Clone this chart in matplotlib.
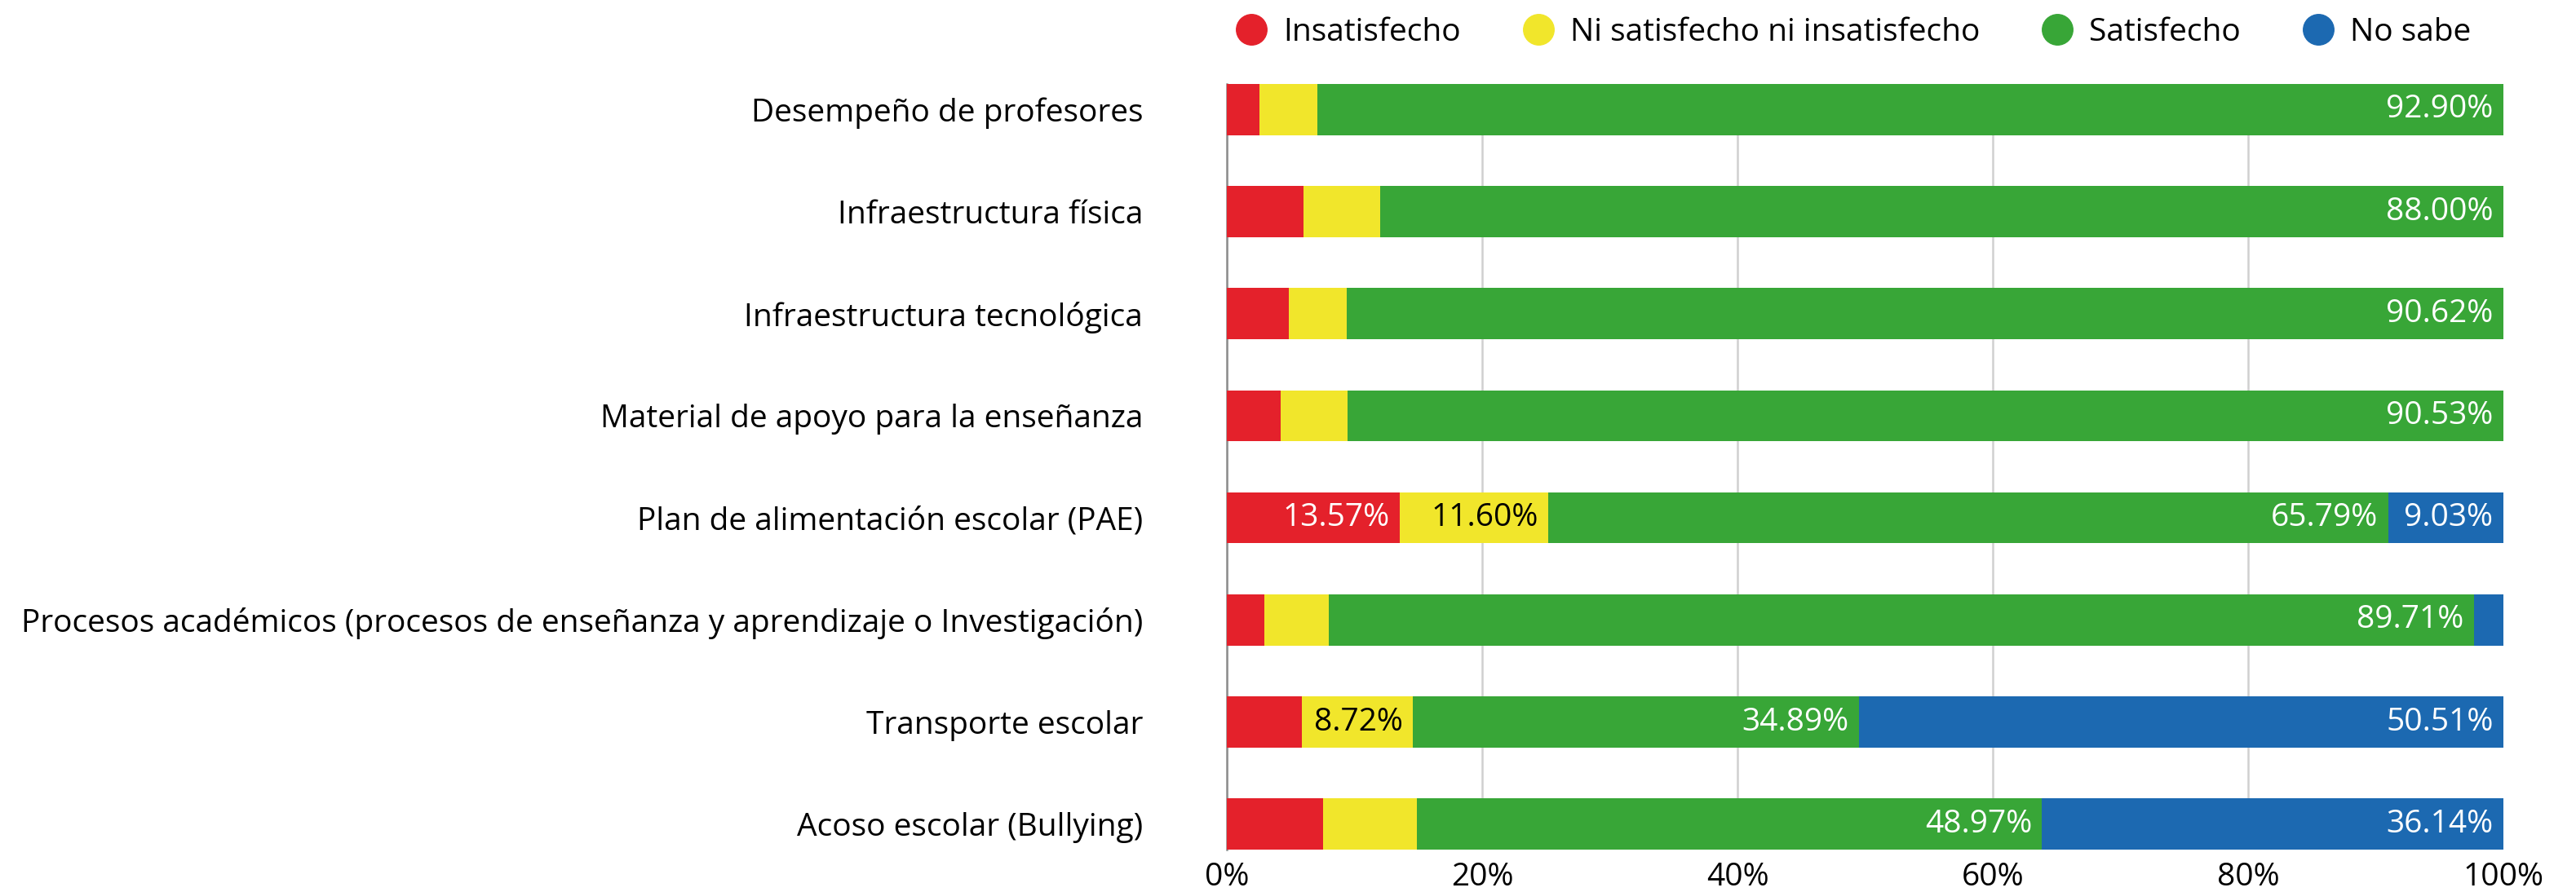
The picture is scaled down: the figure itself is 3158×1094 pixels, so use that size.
import matplotlib
matplotlib.use("Agg")
import matplotlib.pyplot as plt
from matplotlib.lines import Line2D

plt.rcParams["font.family"] = ["Open Sans", "DejaVu Sans"]

CATS = ["Desempeño de profesores",
        "Infraestructura física",
        "Infraestructura tecnológica",
        "Material de apoyo para la enseñanza",
        "Plan de alimentación escolar (PAE)",
        "Procesos académicos (procesos de enseñanza y aprendizaje o Investigación)",
        "Transporte escolar",
        "Acoso escolar (Bullying)"]
INSAT = [2.56, 6.00, 4.86, 4.22, 13.57, 2.94, 5.88, 7.54]
NI = [4.53, 6.00, 4.52, 5.25, 11.60, 5.05, 8.72, 7.35]
SAT = [92.90, 88.00, 90.62, 90.53, 65.79, 89.71, 34.89, 48.97]
NOSABE = [0.0, 0.0, 0.0, 0.0, 9.03, 2.30, 50.51, 36.14]
SERIES = ["Insatisfecho", "Ni satisfecho ni insatisfecho", "Satisfecho", "No sabe"]
COLORS = ["#e4212b", "#f1e62b", "#38a637", "#1c69b1"]
TXT = ["white", "black", "white", "white"]
XTICKS = [0, 20, 40, 60, 80, 100]
FS = 28

fig = plt.figure(figsize=(31.58, 10.94), dpi=100)
ax = fig.add_axes([1504 / 3158, 52 / 1094, 1565 / 3158, 939 / 1094])

y = list(range(len(CATS)))
left = [0.0] * len(CATS)
for vals, col, tc, name in zip([INSAT, NI, SAT, NOSABE], COLORS, TXT, SERIES):
    ax.barh(y, vals, left=left, height=0.5, color=col, zorder=3, label=name)
    for i, v in enumerate(vals):
        if v > 8:   # only the wider segments carry a label
            ax.text(left[i] + v - 0.8, i, f"{v:.2f}%", ha="right", va="center",
                    color=tc, fontsize=FS, zorder=4)
    left = [l + v for l, v in zip(left, vals)]

ax.set_ylim(len(CATS) - 0.75, -0.25)
ax.set_xlim(0, 100)
ax.set_yticks(y)
ax.set_yticklabels(CATS, fontsize=FS)
ax.set_xticks(XTICKS)
ax.set_xticklabels([f"{t}%" for t in XTICKS], fontsize=FS)
ax.tick_params(axis="both", length=0)
ax.tick_params(axis="y", pad=74)
ax.tick_params(axis="x", pad=11)
for s in ["top", "right", "bottom"]:
    ax.spines[s].set_visible(False)
ax.spines["left"].set_color("#8c8c8c")
ax.spines["left"].set_linewidth(1.8)
ax.spines["left"].set_zorder(2)
ax.xaxis.grid(True, color="#d0d0d0", lw=1.8, zorder=1)
ax.set_axisbelow(True)
ax.get_xgridlines()[-1].set_visible(False)

handles = [Line2D([], [], marker="o", ls="", ms=27, color=c) for c in COLORS]
fig.legend(handles, SERIES, loc="center", bbox_to_anchor=(2272 / 3158, 1 - 40 / 1094),
           ncol=4, frameon=False, fontsize=FS, handlelength=1.0,
           handletextpad=0.5, columnspacing=1.95)

fig.savefig("out.png", dpi=100)
